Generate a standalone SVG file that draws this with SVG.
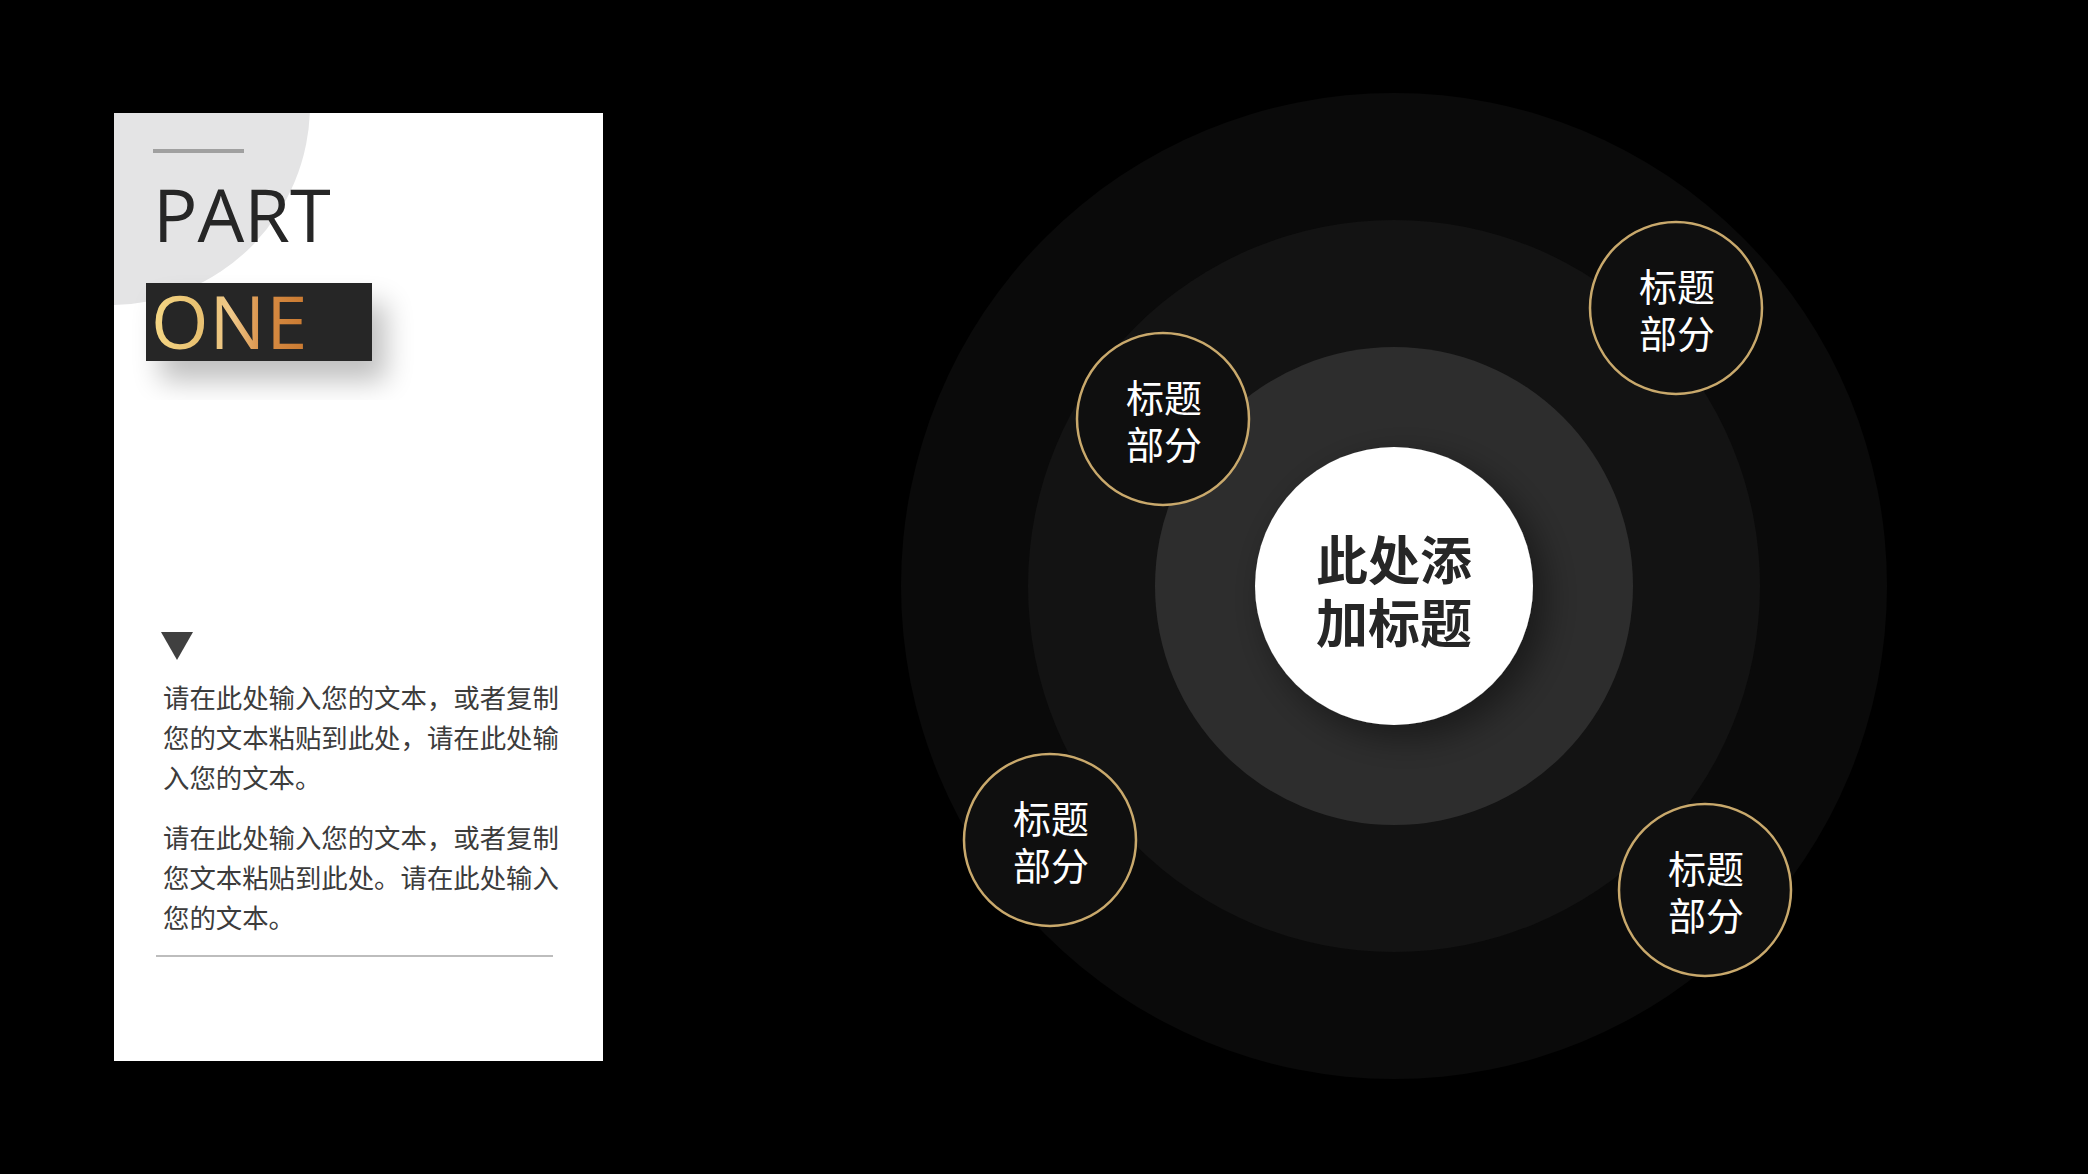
<svg xmlns="http://www.w3.org/2000/svg" width="2088" height="1174" viewBox="0 0 2088 1174">
<defs>
<style>
.lbl{font-family:"Noto Sans CJK SC","Noto Sans",sans-serif;font-size:38px;fill:#ffffff;text-anchor:middle}
.ring{fill:#0f0f0f;stroke:#c9a96c;stroke-width:2.5}
.para{font-family:"Noto Sans CJK SC","Noto Sans",sans-serif;font-size:26.4px;fill:#3c3c3c}
.big{font-family:"Open Sans","Liberation Sans",sans-serif;font-size:74px}
.ctr{font-family:"Noto Sans CJK SC","Noto Sans",sans-serif;font-size:52px;font-weight:bold;fill:#262626;text-anchor:middle}
</style>
<linearGradient id="gold" x1="153" y1="0" x2="310" y2="0" gradientUnits="userSpaceOnUse">
<stop offset="0" stop-color="#f5d785"/>
<stop offset="0.3" stop-color="#e8c070"/>
<stop offset="0.5" stop-color="#f0c98a"/>
<stop offset="0.7" stop-color="#d88d45"/>
<stop offset="1" stop-color="#c8782f"/>
</linearGradient>
<filter id="boxShadow" x="-50%" y="-50%" width="200%" height="200%">
<feGaussianBlur in="SourceAlpha" stdDeviation="14"/>
<feOffset dx="14" dy="20" result="b"/>
<feComponentTransfer><feFuncA type="linear" slope="0.25"/></feComponentTransfer>
<feMerge><feMergeNode/><feMergeNode in="SourceGraphic"/></feMerge>
</filter>
<filter id="whiteShadow" x="-50%" y="-50%" width="200%" height="200%">
<feGaussianBlur in="SourceAlpha" stdDeviation="18"/>
<feOffset dx="12" dy="12"/>
<feComponentTransfer><feFuncA type="linear" slope="0.45"/></feComponentTransfer>
<feMerge><feMergeNode/><feMergeNode in="SourceGraphic"/></feMerge>
</filter>
<clipPath id="panelClip"><rect x="114" y="113" width="489" height="948"/></clipPath>
</defs>
<rect width="2088" height="1174" fill="#000000"/>

<g id="panel">
<rect x="114" y="113" width="489" height="948" fill="#ffffff"/>
<circle cx="110" cy="105" r="200" fill="#e4e4e5" clip-path="url(#panelClip)"/>
<rect x="153" y="149" width="91" height="4" fill="#a0a0a0"/>
<text class="big" x="153" y="242" fill="#262626">PART</text>
<rect x="146" y="283" width="226" height="78" fill="#262626" filter="url(#boxShadow)"/>
<text class="big" x="151" y="349" fill="url(#gold)" letter-spacing="1">ONE</text>
<polygon points="161,632 193,632 177,660" fill="#404040"/>
<text class="para" x="163" y="708">请在此处输入您的文本，或者复制<tspan x="163" y="748">您的文本粘贴到此处，请在此处输</tspan><tspan x="163" y="788">入您的文本。</tspan></text>
<text class="para" x="163" y="848">请在此处输入您的文本，或者复制<tspan x="163" y="888">您文本粘贴到此处。请在此处输入</tspan><tspan x="163" y="928">您的文本。</tspan></text>
<rect x="156" y="955" width="397" height="2" fill="#bdbdbd"/>
</g>

<g id="rings">
<circle cx="1394" cy="586" r="493" fill="#0a0a0a"/>
<circle cx="1394" cy="586" r="366" fill="#131313"/>
<circle cx="1394" cy="586" r="239" fill="#2d2d2d"/>
</g>

<g id="connectors"></g>

<g id="center">
<circle cx="1394" cy="586" r="139" fill="#ffffff" filter="url(#whiteShadow)"/>
<text class="ctr" x="1394" y="580">此处添<tspan x="1394" y="643">加标题</tspan></text>
</g>

<g id="node1">
<circle class="ring" cx="1163" cy="419" r="86"/>
<text class="lbl" x="1164" y="412">标题<tspan x="1164" y="459">部分</tspan></text>
</g>
<g id="node2">
<circle class="ring" cx="1676" cy="308" r="86"/>
<text class="lbl" x="1677" y="301">标题<tspan x="1677" y="348">部分</tspan></text>
</g>
<g id="node3">
<circle class="ring" cx="1050" cy="840" r="86"/>
<text class="lbl" x="1051" y="833">标题<tspan x="1051" y="880">部分</tspan></text>
</g>
<g id="node4">
<circle class="ring" cx="1705" cy="890" r="86"/>
<text class="lbl" x="1706" y="883">标题<tspan x="1706" y="930">部分</tspan></text>
</g>
</svg>
